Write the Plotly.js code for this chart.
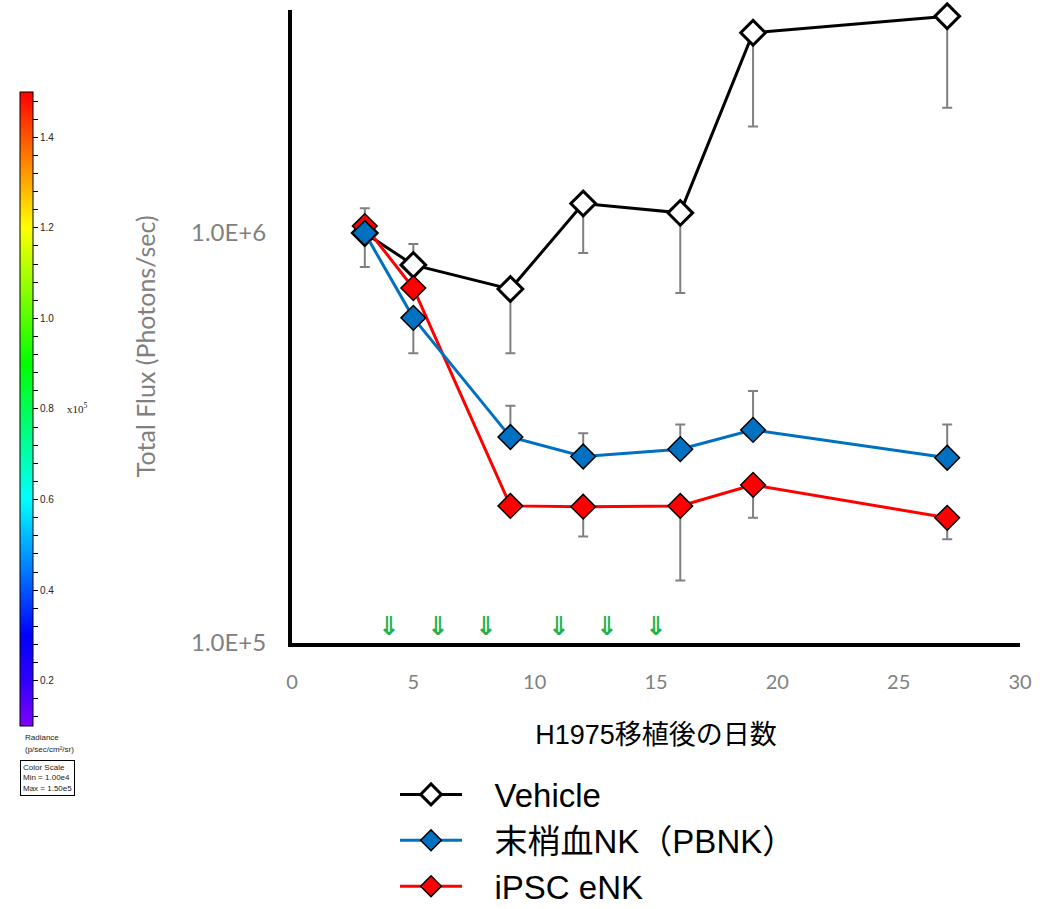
<!DOCTYPE html>
<html>
<head>
<meta charset="utf-8">
<script src="https://cdn.plot.ly/plotly-3.0.1.min.js"></script>
<style>html,body{margin:0;padding:0;background:#fff;}#chart{width:1061px;height:909px;}</style>
</head>
<body>
<div id="chart"></div>
<script>
// ---- data ----
const days = [3, 5, 9, 12, 16, 19, 27];

const vehicle      = [1.0e6, 8.36e5, 7.3e5, 1.18e6, 1.12e6, 3.08e6, 3.38e6];
const vehicleUp    = [1.5e5, 1.04e5, 0, 0, 0, 0, 0];
const vehicleDown  = [1.74e5, 0, 2.21e5, 2.86e5, 4.06e5, 1.26e6, 1.36e6];

const pbnk         = [1.0e6, 6.21e5, 3.18e5, 2.85e5, 2.97e5, 3.31e5, 2.83e5];
const pbnkUp       = [0, 0, 6.1e4, 4.0e4, 4.4e4, 8.1e4, 5.8e4];
const pbnkDown     = [0, 1.12e5, 0, 0, 0, 0, 0];

const ipsc         = [1.04e6, 7.34e5, 2.16e5, 2.15e5, 2.16e5, 2.43e5, 2.02e5];
const ipscUp       = [0, 0, 0, 0, 0, 0, 0];
const ipscDown     = [0, 0, 0, 3.3e4, 7.4e4, 4.1e4, 2.3e4];

const seriesNames  = ['Vehicle', '末梢血NK（PBNK）', 'iPSC eNK'];
const dosingDays   = [4, 6, 8, 11, 13, 15];

const xTickVals    = [0, 5, 10, 15, 20, 25, 30];
const yTickVals    = [1e5, 1e6];
const yTickText    = ['1.0E+5', '1.0E+6'];

const cbLabelVals  = [0.2, 0.4, 0.6, 0.8, 1.0, 1.2, 1.4];
const cbLabelText  = ['0.2', '0.4', '0.6', '0.8', '1.0', '1.2', '1.4'];
const cbMin = 0.1, cbMax = 1.5;

// ---- build ----
const errStyle = {type: 'data', symmetric: false, color: '#808080', thickness: 2, width: 5};
const pad = '\u00a0\u00a0\u00a0';

function trace(name, y, up, down, lineColor, fill, mlw, rank) {
  return {
    type: 'scatter', mode: 'lines+markers', name: pad + name, x: days, y: y,
    line: {color: lineColor, width: 3},
    marker: {symbol: 'diamond', size: 19, color: fill, line: {color: '#000', width: mlw}},
    error_y: Object.assign({array: up, arrayminus: down}, errStyle),
    cliponaxis: false, legendrank: rank
  };
}

const traces = [
  trace(seriesNames[0], vehicle, vehicleUp, vehicleDown, '#000000', '#ffffff', 3, 1),
  trace(seriesNames[2], ipsc, ipscUp, ipscDown, '#ff0000', '#ff0000', 1.5, 3),
  trace(seriesNames[1], pbnk, pbnkUp, pbnkDown, '#0070c0', '#0070c0', 1.5, 2)
];

// colour bar (decorative, via a trace with no visible points)
const cbTickVals = [], cbTickText = [];
for (let v = 0.12; v < 1.495; v += 0.04) {
  const r = Math.round(v * 100) / 100;
  cbTickVals.push(r);
  const i = cbLabelVals.findIndex(t => Math.abs(t - r) < 1e-6);
  cbTickText.push(i >= 0 ? cbLabelText[i] : ' ');
}
traces.push({
  type: 'scatter', mode: 'markers', x: [null], y: [null], showlegend: false, hoverinfo: 'skip',
  marker: {
    color: [cbMin], cmin: cbMin, cmax: cbMax, showscale: true,
    colorscale: [
      [0, '#8000ff'], [0.071, '#3000ff'], [0.143, '#0000ff'], [0.25, '#0080ff'],
      [0.357, '#00ffff'], [0.464, '#00ff80'], [0.571, '#00ff00'], [0.786, '#ffff00'],
      [0.893, '#ff8000'], [1, '#ff0000']
    ],
    colorbar: {
      x: -0.3736, xanchor: 'left', xpad: 0, y: 0.3697, yanchor: 'middle', ypad: 0,
      len: 634, lenmode: 'pixels', thickness: 13, thicknessmode: 'pixels',
      outlinewidth: 1, outlinecolor: '#000', borderwidth: 0,
      tickmode: 'array', tickvals: cbTickVals, ticktext: cbTickText,
      ticks: 'outside', ticklen: 5, tickwidth: 1, tickcolor: '#000',
      tickfont: {family: 'Liberation Sans', size: 10, color: '#222'}
    }
  }
});

const annotations = dosingDays.map(d => ({
  x: d, xref: 'x', y: 0.027, yref: 'paper', text: '<b>⇓</b>', showarrow: false,
  font: {family: 'DejaVu Sans', size: 26, color: '#1fb24a'}, yanchor: 'middle'
}));
annotations.push(
  {x: -0.2019, xref: 'paper', y: 0.469, yref: 'paper', xanchor: 'center', yanchor: 'middle',
   text: 'Total Flux (Photons/sec)', textangle: -90, showarrow: false,
   font: {family: 'Lato', size: 25, color: '#808080'}},
  {x: -0.312, xref: 'paper', y: 0.3712, yref: 'paper', xanchor: 'left', yanchor: 'middle',
   text: 'x10<sup>5</sup>', showarrow: false, font: {family: 'Liberation Serif', size: 11, color: '#222'}},
  {x: -0.3695, xref: 'paper', y: -0.1485, yref: 'paper', xanchor: 'left', yanchor: 'middle',
   text: 'Radiance', showarrow: false, font: {family: 'Liberation Sans', size: 8, color: '#222'}},
  {x: -0.3695, xref: 'paper', y: -0.1675, yref: 'paper', xanchor: 'left', yanchor: 'middle',
   text: '(p/sec/cm²/sr)', showarrow: false, font: {family: 'Liberation Sans', size: 8, color: '#222'}},
  {x: -0.3736, xref: 'paper', y: -0.1848, yref: 'paper', xanchor: 'left', yanchor: 'top',
   text: 'Color Scale<br>Min = 1.00e4<br>Max = 1.50e5', align: 'left', showarrow: false,
   bordercolor: '#000', borderwidth: 1, borderpad: 2,
   font: {family: 'Liberation Sans', size: 8, color: '#222'}}
);

const layout = {
  width: 1061, height: 909,
  margin: {l: 292, r: 41, t: 10, b: 266, autoexpand: false},
  paper_bgcolor: '#fff', plot_bgcolor: '#fff',
  font: {family: 'Liberation Sans, Noto Sans CJK JP', color: '#000'},
  xaxis: {
    range: [0, 30], tickmode: 'array', tickvals: xTickVals,
    showgrid: false, zeroline: false, showline: true, linecolor: '#000', linewidth: 4,
    ticks: '', ticklabelstandoff: 18,
    tickfont: {family: 'Lato', size: 20, color: '#808080'},
    title: {text: 'H1975移植後の日数', standoff: 34,
            font: {family: 'Liberation Sans, Noto Sans CJK JP', size: 27, color: '#000'}},
    automargin: false
  },
  yaxis: {
    type: 'log', range: [5, 6.544], tickmode: 'array', tickvals: yTickVals, ticktext: yTickText,
    showgrid: false, zeroline: false, showline: true, linecolor: '#000', linewidth: 4,
    ticks: '', ticklabelstandoff: 17,
    tickfont: {family: 'Lato', size: 24, color: '#808080'},
    automargin: false
  },
  legend: {
    x: 0.1415, xanchor: 'left', y: -0.195, yanchor: 'top', orientation: 'v',
    font: {family: 'Liberation Sans, Noto Sans CJK JP', size: 33, color: '#000'},
    itemwidth: 62, bgcolor: 'rgba(0,0,0,0)', tracegroupgap: 0
  },
  annotations: annotations,
  showlegend: true
};

Plotly.newPlot('chart', traces, layout, {displayModeBar: false, staticPlot: true});
</script>
</body>
</html>
